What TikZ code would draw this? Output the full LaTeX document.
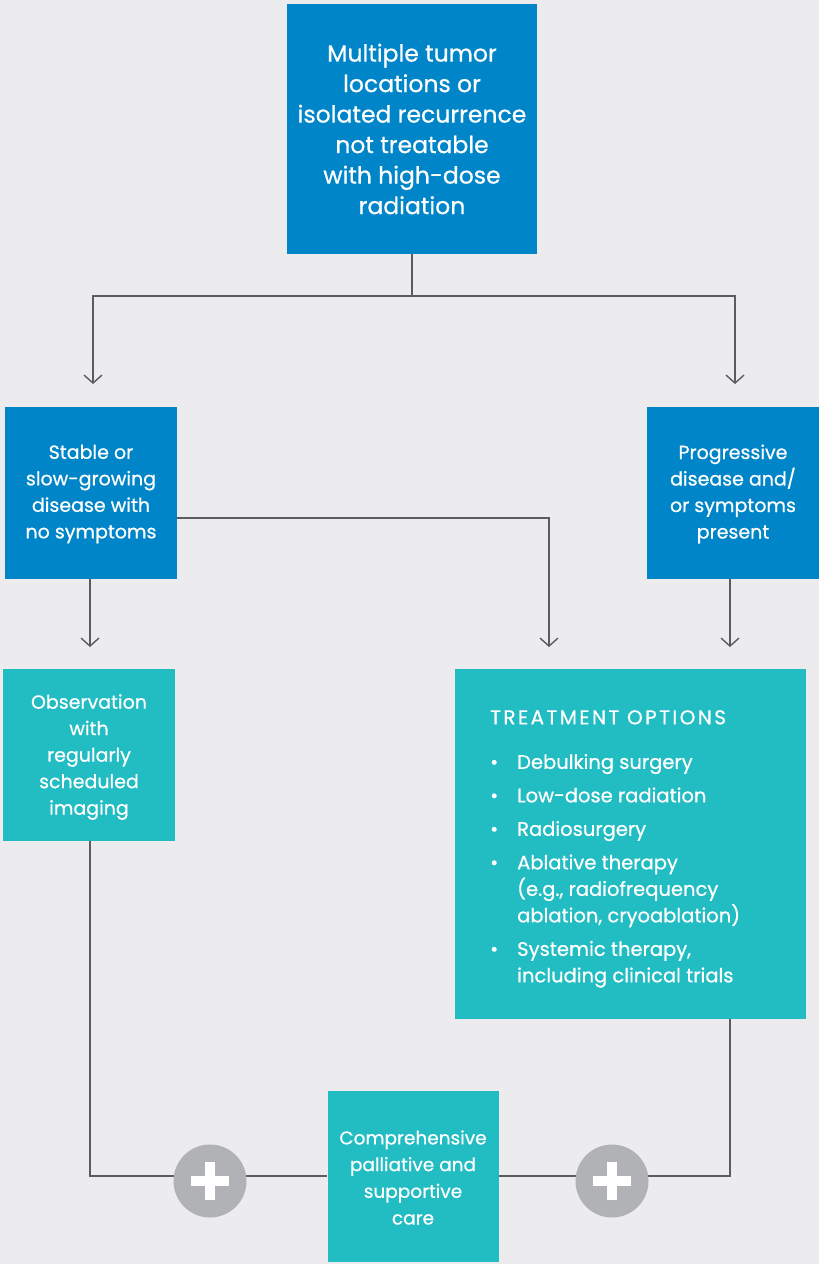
\documentclass[tikz,border=0pt]{standalone}
\usepackage{fontspec}
\setmainfont{Poppins}[FakeBold=0.6]
\usetikzlibrary{arrows.meta}
\definecolor{bgcol}{HTML}{ECECEF}
\definecolor{bluebox}{HTML}{0085C8}
\definecolor{tealbox}{HTML}{22BCC3}
\definecolor{linecol}{HTML}{5C5C60}
\definecolor{pluscol}{HTML}{B1B2B6}
\begin{document}
\begin{tikzpicture}[x=1pt,y=-1pt,
  box/.style={draw=none,minimum width=#1,minimum height=#1,inner sep=0pt},
  bluecard/.style={box=#1,fill=bluebox},
  tealcard/.style={box=#1,fill=tealbox},
  label/.style={text=white,align=center,inner sep=0pt},
  flow/.style={draw=linecol,line width=1.4pt},
  arrowflow/.style={flow,-{Straight Barb[length=8pt,width=18pt,line width=1.4pt]}},
  plusdisc/.style={circle,fill=pluscol,minimum size=73pt,inner sep=0pt}
]
\useasboundingbox[fill=bgcol] (0,0) rectangle (819,1264);

% cards
\node[bluecard=250pt] (top) at (412,128.5) {};
\node[label,font=\fontsize{23.5}{30.5}\selectfont] (toptext) at (412,129)
  {Multiple tumor\\locations or\\isolated recurrence\\not treatable\\with high-dose\\radiation};

\node[bluecard=172pt] (stable) at (91,493) {};
\node[label,font=\fontsize{19}{26.5}\selectfont] (stabletext) at (91,494)
  {Stable or\\slow-growing\\disease with\\no symptoms};

\node[bluecard=172pt] (prog) at (733,492.5) {};
\node[label,font=\fontsize{19}{26.5}\selectfont] (progtext) at (733,494)
  {Progressive\\disease and/\\or symptoms\\present};

\node[tealcard=172pt] (obs) at (89,754.5) {};
\node[label,font=\fontsize{19}{26.5}\selectfont] (obstext) at (89,757)
  {Observation\\with\\regularly\\scheduled\\imaging};

\node[box=350pt,minimum width=351pt,fill=tealbox] (treat) at (630.5,844) {};
\node[text=white,inner sep=0pt,anchor=north west,align=left,
      font=\fontsize{19.5}{26.5}\selectfont] (treattext) at (490,710)
  {{\fontsize{20}{26.5}\selectfont\addfontfeature{LetterSpace=12}TREATMENT OPTIONS}\\[18pt]
   \makebox[27pt][l]{\textbullet}Debulking surgery\\[7pt]
   \makebox[27pt][l]{\textbullet}Low-dose radiation\\[7pt]
   \makebox[27pt][l]{\textbullet}Radiosurgery\\[7pt]
   \makebox[27pt][l]{\textbullet}Ablative therapy\\
   \hspace*{27pt}(e.g., radiofrequency\\
   \hspace*{27pt}ablation, cryoablation)\\[7pt]
   \makebox[27pt][l]{\textbullet}Systemic therapy,\\
   \hspace*{27pt}including clinical trials};

\node[tealcard=171pt] (care) at (413,1176.5) {};
\node[label,font=\fontsize{18.5}{26.7}\selectfont] (caretext) at (413,1177.5)
  {Comprehensive\\palliative and\\supportive\\care};

% split below the top card
\coordinate (split) at (412,296);
\draw[flow] (top.south) -- (split);
\draw[arrowflow] (split) -| (93,384);
\draw[arrowflow] (split) -| (735,384);

% lower branches
\draw[arrowflow] (stable.east |- 0,518) -| (549,647);
\draw[arrowflow] (stable.south -| 90,0) -- (90,647);
\draw[arrowflow] (prog.south -| 730,0) -- (730,647);

% joins into supportive care
\draw[flow] (obs.south -| 90,0) |- (care.west |- 0,1176);
\draw[flow] (treat.south -| 730,0) |- (care.east |- 0,1176);

% plus discs
\foreach \n/\cx in {plusL/210,plusR/612}{
  \node[plusdisc] (\n) at (\cx,1181) {};
  \fill[white] ([xshift=-19pt,yshift=-5pt]\n.center) rectangle ([xshift=19pt,yshift=5pt]\n.center);
  \fill[white] ([xshift=-5pt,yshift=-19pt]\n.center) rectangle ([xshift=5pt,yshift=19pt]\n.center);
}
\end{tikzpicture}
\end{document}
